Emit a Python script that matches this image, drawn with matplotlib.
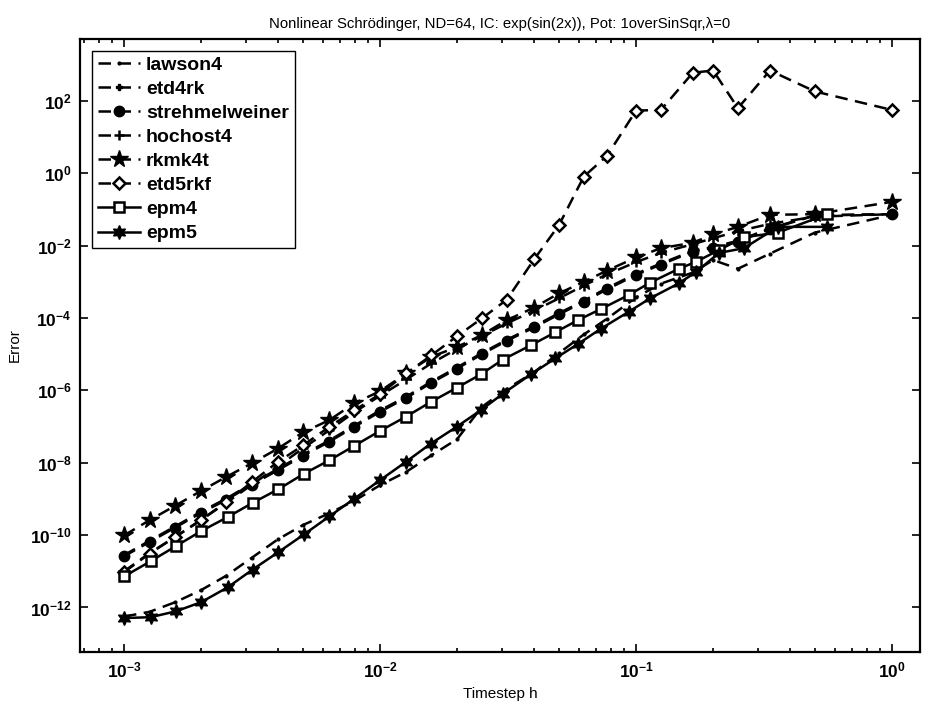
import numpy as np
import matplotlib
matplotlib.use("Agg")
import matplotlib.pyplot as plt
from matplotlib.ticker import LogLocator, FixedLocator, NullFormatter

plt.rcParams['font.family'] = ['Liberation Sans', 'DejaVu Sans']
plt.rcParams['mathtext.fontset'] = 'custom'
plt.rcParams['mathtext.rm'] = 'Liberation Sans'
plt.rcParams['mathtext.bf'] = 'Liberation Sans:bold'

# step counts for the standard methods, h = 1/N
N_std = [1000, 794, 631, 501, 398, 316, 251, 200, 158, 126, 100, 79, 63, 50,
         40, 32, 25, 20, 16, 13, 10, 8, 6, 5, 4, 3, 2, 1]
h_std = [1.0 / n for n in N_std]

# timesteps used by the epm runs
h_epm = [1.0e-3, 1.27e-3, 1.59e-3, 2.0e-3, 2.54e-3, 3.18e-3, 4.01e-3, 5.05e-3,
         6.34e-3, 7.94e-3, 1.0e-2, 1.26e-2, 1.58e-2, 1.99e-2, 0.0247, 0.0302,
         0.0389, 0.0483, 0.0592, 0.073, 0.0935, 0.1135, 0.147, 0.172, 0.211,
         0.264, 0.358, 0.559]

lawson4 = [5.6e-13, 7.6e-13, 1.4e-12, 3.0e-12, 7.6e-12, 2.4e-11, 7.6e-11, 1.9e-10,
           4.0e-10, 8.9e-10, 2.4e-9, 5.6e-9, 1.6e-8, 4.5e-8, 3.5e-7, 1.1e-6,
           3.2e-6, 1.07e-5, 3.5e-5, 9.5e-5, 3.7e-4, 8.9e-4, 1.8e-3, 4.0e-3,
           2.3e-3, 6.0e-3, 2.3e-2, 7.1e-2]
etd4rk = [2.8e-11, 7.0e-11, 1.75e-10, 4.4e-10, 1.03e-9, 2.7e-9, 6.7e-9, 1.68e-8,
          4.1e-8, 1.06e-7, 2.8e-7, 6.7e-7, 1.75e-6, 4.3e-6, 1.08e-5, 2.5e-5,
          5.9e-5, 1.36e-4, 3.0e-4, 6.7e-4, 1.67e-3, 3.2e-3, 7.2e-3, 9.2e-3,
          1.36e-2, 3.0e-2, 6.9e-2, 7.4e-2]
strehmelweiner = [2.6e-11, 6.5e-11, 1.62e-10, 4.1e-10, 9.5e-10, 2.5e-9, 6.2e-9,
                  1.55e-8, 3.8e-8, 9.8e-8, 2.57e-7, 6.2e-7, 1.62e-6, 4.0e-6,
                  1.0e-5, 2.34e-5, 5.5e-5, 1.26e-4, 2.8e-4, 6.2e-4, 1.55e-3,
                  3.0e-3, 6.8e-3, 8.7e-3, 1.29e-2, 2.9e-2, 6.8e-2, 7.4e-2]
hochost4 = [1.0e-11, 3.2e-11, 8.9e-11, 2.6e-10, 7.9e-10, 2.5e-9, 7.9e-9, 2.5e-8,
            7.9e-8, 2.5e-7, 7.1e-7, 2.0e-6, 5.6e-6, 1.4e-5, 3.2e-5, 7.1e-5,
            1.6e-4, 3.5e-4, 7.9e-4, 1.6e-3, 3.5e-3, 6.3e-3, 1.1e-2, 1.6e-2,
            2.5e-2, 4.0e-2, 6.3e-2, 7.4e-2]
rkmk4t = [9.8e-11, 2.6e-10, 6.5e-10, 1.66e-9, 4.1e-9, 9.8e-9, 2.45e-8, 6.9e-8,
          1.5e-7, 4.4e-7, 9.5e-7, 2.95e-6, 8.5e-6, 1.58e-5, 3.4e-5, 8.7e-5,
          1.95e-4, 4.8e-4, 1.0e-3, 2.04e-3, 4.7e-3, 8.5e-3, 1.2e-2, 2.04e-2,
          3.3e-2, 7.1e-2, 7.4e-2, 0.162]
etd5rkf = [9.5e-12, 3.1e-11, 8.9e-11, 2.6e-10, 8.3e-10, 2.95e-9, 1.05e-8, 3.0e-8,
           9.8e-8, 2.8e-7, 7.9e-7, 2.95e-6, 9.3e-6, 3.16e-5, 9.8e-5, 3.2e-4,
           4.2e-3, 3.7e-2, 0.81, 3.0, 54, 56, 600, 690, 63, 690, 182, 56]
epm4 = [7.2e-12, 1.9e-11, 4.9e-11, 1.29e-10, 3.16e-10, 7.8e-10, 1.86e-9, 5.0e-9,
        1.17e-8, 2.95e-8, 7.6e-8, 1.86e-7, 4.8e-7, 1.17e-6, 2.75e-6, 7.1e-6,
        1.78e-5, 4.0e-5, 8.7e-5, 1.78e-4, 4.3e-4, 9.5e-4, 2.3e-3, 3.6e-3,
        7.6e-3, 1.7e-2, 2.3e-2, 7.4e-2]
epm5 = [5.1e-13, 5.4e-13, 7.8e-13, 1.4e-12, 3.6e-12, 1.12e-11, 3.4e-11, 1.05e-10,
        3.3e-10, 1.02e-9, 3.3e-9, 1.05e-8, 3.4e-8, 9.8e-8, 2.8e-7, 8.1e-7,
        2.8e-6, 7.6e-6, 1.9e-5, 5.1e-5, 1.48e-4, 3.5e-4, 9.1e-4, 1.9e-3,
        6.3e-3, 8.5e-3, 3.3e-2, 3.3e-2]

fig = plt.figure(figsize=(9.32, 7.07), dpi=100)
ax = fig.add_axes([80 / 932, 1 - 652 / 707, 840 / 932, 613 / 707])

lw = 1.8
dash = (5, 3)
ax.loglog(h_std, lawson4, 'k--', lw=lw, dashes=dash, marker='.', ms=4, label='lawson4')
ax.loglog(h_std, etd4rk, 'k--', lw=lw, dashes=dash, marker='P', ms=5, label='etd4rk')
ax.loglog(h_std, strehmelweiner, 'k--', lw=lw, dashes=dash, marker='o', ms=7.5,
          mfc='k', label='strehmelweiner')
ax.loglog(h_std, hochost4, 'k--', lw=lw, dashes=dash, marker='+', ms=7, mew=1.8,
          label='hochost4')
ax.loglog(h_std, rkmk4t, 'k--', lw=lw, dashes=dash, marker='*', ms=13, mfc='k',
          label='rkmk4t')
ax.loglog(h_std, etd5rkf, 'k--', lw=lw, dashes=dash, marker='D', ms=6, mfc='w',
          mew=1.8, label='etd5rkf')
ax.loglog(h_epm, epm4, 'k-', lw=lw, marker='s', ms=7, mfc='w', mew=1.8, label='epm4')
ax.loglog(h_epm, epm5, 'k-', lw=lw, marker=(6, 1, 0), ms=10, mfc='k', label='epm5')

ax.set_xlim(10 ** -3.172, 10 ** 0.109)
ax.set_ylim(10 ** -13.23, 10 ** 3.71)

ax.xaxis.set_major_locator(FixedLocator([1e-3, 1e-2, 1e-1, 1e0]))
ax.xaxis.set_minor_locator(LogLocator(base=10, subs=np.arange(2, 10), numticks=20))
ax.xaxis.set_minor_formatter(NullFormatter())
ax.set_xticklabels([r'$\mathbf{10^{-3}}$', r'$\mathbf{10^{-2}}$',
                    r'$\mathbf{10^{-1}}$', r'$\mathbf{10^{0}}$'])
yt = [1e-12, 1e-10, 1e-8, 1e-6, 1e-4, 1e-2, 1e0, 1e2]
ax.yaxis.set_major_locator(FixedLocator(yt))
ax.yaxis.set_minor_locator(FixedLocator([]))
ax.set_yticklabels([r'$\mathbf{10^{-12}}$', r'$\mathbf{10^{-10}}$', r'$\mathbf{10^{-8}}$',
                    r'$\mathbf{10^{-6}}$', r'$\mathbf{10^{-4}}$', r'$\mathbf{10^{-2}}$',
                    r'$\mathbf{10^{0}}$', r'$\mathbf{10^{2}}$'])
ax.tick_params(which='both', direction='in', top=True, right=True, labelsize=12.5)
ax.tick_params(which='major', length=6, width=1.2, pad=6)
ax.tick_params(which='minor', length=3, width=1.2)
for s in ax.spines.values():
    s.set_linewidth(1.6)

ax.set_xlabel('Timestep h', fontsize=11, labelpad=5)
ax.set_ylabel('Error', fontsize=11, labelpad=6)
ax.set_title('Nonlinear Schrödinger, ND=64, IC: exp(sin(2x)), Pot: 1overSinSqr,λ=0',
             fontsize=10.7, pad=8)

leg = ax.legend(loc='upper left', prop={'weight': 'bold', 'size': 14},
                fancybox=False, edgecolor='k', framealpha=1, handlelength=2.2,
                handletextpad=0.3, borderaxespad=0.6, labelspacing=0.33,
                borderpad=0.3)
leg.get_frame().set_linewidth(1.0)

fig.savefig('out.png', dpi=100)
